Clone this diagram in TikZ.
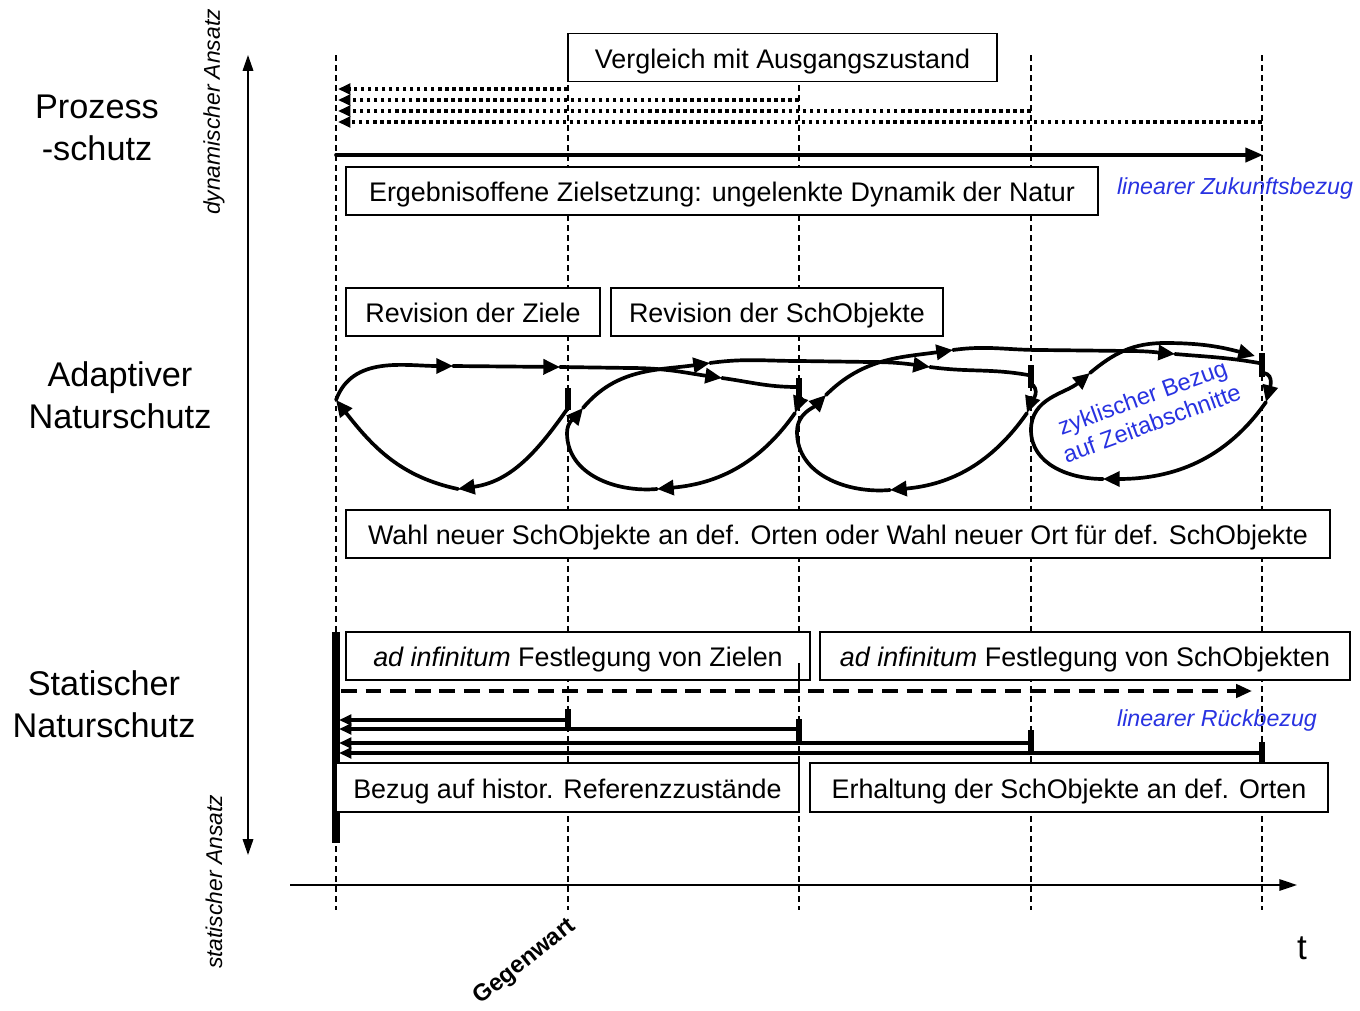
\documentclass[tikz,border=0pt]{standalone}
\usepackage{fontspec}
\setmainfont{Liberation Sans}
\usetikzlibrary{arrows.meta}
\definecolor{lblue}{RGB}{40,50,225}
\begin{document}
\begin{tikzpicture}[x=0.02cm,y=0.02cm,
  box/.style={draw,fill=white,line width=0.9pt,inner sep=0pt,minimum height=0.96cm,
    text height=12pt,text depth=0pt,font=\fontsize{15.3}{18}\selectfont},
  vl/.style={line width=0.8pt,dash pattern=on 3.4pt off 2.3pt},
  thinax/.style={line width=0.9pt},
  lp/.style={line width=2.1pt,line cap=round},
  ar/.style={-{Triangle[length=9.5pt,width=8.5pt]}},
  sar/.style={-{Triangle[length=7pt,width=6pt]}},
  dotl/.style={line width=2pt,dash pattern=on 2pt off 2pt},
  bar/.style={line width=3.2pt},
  bluet/.style={text=lblue,font=\fontsize{13.2}{15}\selectfont\itshape},
  sidelab/.style={align=center,font=\fontsize{19.5}{24}\selectfont},
  axlab/.style={rotate=90,font=\fontsize{13}{15}\selectfont\itshape}]
\useasboundingbox (0,0) rectangle (1360,-1011);

% time coordinates
\foreach \x/\n in {336/a,568/b,799/c,1031/d,1262/e}{
  \coordinate (\n top) at (\x,-55);
  \coordinate (\n bot) at (\x,-910);
  \draw[vl] (\n top) -- (\n bot);
}

% axes
\coordinate (yt) at (248,-55);
\coordinate (yb) at (248,-855);
\draw[thinax,{Triangle[length=9pt,width=6pt]}-{Triangle[length=9pt,width=6pt]}] (yt) -- (yb);
\coordinate (xl) at (290,-885);
\coordinate (xr) at (1297,-885);
\draw[thinax,-{Triangle[length=10pt,width=6.5pt]}] (xl) -- (xr);
\node (tlab) at (1302,-948) {\fontsize{20}{22}\selectfont t};
\node[rotate=38.7,font=\fontsize{13.5}{15}\selectfont\bfseries] (gw) at (525,-962) {Gegenwart};
\node[axlab] (dyn) at (214,-112) {dynamischer Ansatz};
\node[axlab] (sta) at (214,-882) {statischer Ansatz};

% side labels
\node[sidelab] (l1) at (97,-128) {Prozess\\-schutz};
\node[sidelab] (l2) at (120,-395) {Adaptiver\\Naturschutz};
\node[sidelab] (l3) at (104,-704) {Statischer\\Naturschutz};

% ---------- top section ----------
\node[box,minimum width=8.58cm] (vgl) at (782.5,-57.5) {Vergleich mit Ausgangszustand};
\draw[dotl,sar] (568,-89) -- (338,-89);
\draw[dotl,sar] (799,-100) -- (338,-100);
\draw[dotl,sar] (1031,-111) -- (338,-111);
\draw[dotl,sar] (1262,-122) -- (338,-122);
\draw[lp,-{Triangle[length=10pt,width=8pt]}] (336,-155) -- (1263,-155);
\node[box,minimum width=15.04cm] (erg) at (722,-191) {Ergebnisoffene Zielsetzung: ungelenkte Dynamik der Natur};
\node[bluet] (lzb) at (1235,-189) {linearer Zukunftsbezug};

% ---------- middle section ----------
\node[box,minimum width=5.08cm] (rz) at (473,-312) {Revision der Ziele};
\node[box,minimum width=6.64cm] (rs) at (777,-312) {Revision der SchObjekte};
\node[box,minimum width=19.68cm] (wahl) at (838,-534) {Wahl neuer SchObjekte an def. Orten oder Wahl neuer Ort für def. SchObjekte};

% bars
\draw[bar] (568,-388) -- (568,-410);
\draw[bar] (799,-378) -- (799,-401);
\draw[bar] (1031,-365) -- (1031,-388);
\draw[bar] (1262,-353) -- (1262,-377);

% loop A
\draw[lp,ar] (568,-408) to[out=-125,in=8] (458,-489);
\draw[lp,ar] (458,-489) to[out=168,in=-52] (336,-400);
\draw[lp,ar] (336,-400) to[out=70,in=180] (453,-366);
\draw[lp,ar] (453,-366) -- (560,-367);
\draw[lp,ar] (560,-367) -- (630,-368) to[out=0,in=172] (722,-378);
\draw[lp] (722,-378) to[out=-8,in=180] (797,-387);

% loop B
\draw[lp,ar] (801,-398) to[out=-50,in=70] (795,-413);
\draw[lp,ar] (795,-413) to[out=-125,in=5] (657,-489);
\draw[lp] (657,-489) to[out=185,in=-90] (567,-433);
\draw[lp,ar] (567,-433) to[out=90,in=230] (583,-408);
\draw[lp,ar] (583,-408) to[out=50,in=188] (710,-363);
\draw[lp,ar] (710,-363) to[out=8,in=180] (800,-361) -- (870,-362) to[out=0,in=172] (930,-367);
\draw[lp] (930,-367) to[out=-8,in=170] (1028,-375);

% loop C
\draw[lp,ar] (1033,-385) to[out=-50,in=70] (1027,-413);
\draw[lp,ar] (1027,-413) to[out=-125,in=5] (890,-490);
\draw[lp] (890,-490) to[out=185,in=-90] (797,-432);
\draw[lp,ar] (797,-432) to[out=90,in=225] (826,-395);
\draw[lp,ar] (826,-395) to[out=45,in=188] (953,-350);
\draw[lp,ar] (953,-350) to[out=8,in=180] (1040,-350) -- (1130,-351) to[out=0,in=175] (1175,-354);
\draw[lp] (1175,-354) to[out=-5,in=170] (1259,-363);

% loop D
\draw[lp,ar] (1264,-373) to[out=-10,in=75] (1266,-402);
\draw[lp,ar] (1266,-402) to[out=-125,in=0] (1103,-479);
\draw[lp] (1103,-479) to[out=180,in=-90] (1031,-430);
\draw[lp,ar] (1031,-430) to[out=90,in=220] (1090,-373);
\draw[lp,ar] (1090,-373) to[out=40,in=180] (1165,-343) to[out=0,in=165] (1255,-356);

\node[rotate=20,text=lblue,align=center,font=\fontsize{13.5}{15.8}\selectfont] (cyc) at (1147,-410) {zyklischer Bezug\\auf Zeitabschnitte};

% ---------- bottom section ----------
\node[box,minimum width=9.28cm] (adz) at (578,-656) {\textit{ad infinitum} Festlegung von Zielen};
\node[box,minimum width=10.6cm] (ads) at (1085,-656) {\textit{ad infinitum} Festlegung von SchObjekten};
\draw[thinax] (799,-663) -- (799,-691);
\draw[line width=4pt] (336,-632) -- (336,-843);
\draw[line width=2.1pt,dash pattern=on 9pt off 5pt,-{Triangle[length=9pt,width=7.5pt]}] (341,-691) -- (1252,-691);
\node[bluet] (lrb) at (1217,-720) {linearer Rückbezug};

\draw[lp,sar] (568,-720) -- (339,-720);
\draw[lp,sar] (799,-729) -- (339,-729);
\draw[lp,sar] (1031,-743) -- (339,-743);
\draw[lp,sar] (1262,-753) -- (339,-753);
\draw[bar] (568,-709) -- (568,-731);
\draw[bar] (799,-719) -- (799,-742);
\draw[bar] (1031,-730) -- (1031,-753);
\draw[bar] (1262,-742) -- (1262,-763);

\node[box,minimum width=9.26cm,minimum height=0.98cm] (bez) at (567.5,-787.5) {Bezug auf histor. Referenzzustände};
\node[box,minimum width=10.36cm,minimum height=0.98cm] (erh) at (1069,-787.5) {Erhaltung der SchObjekte an def. Orten};
\end{tikzpicture}
\end{document}
